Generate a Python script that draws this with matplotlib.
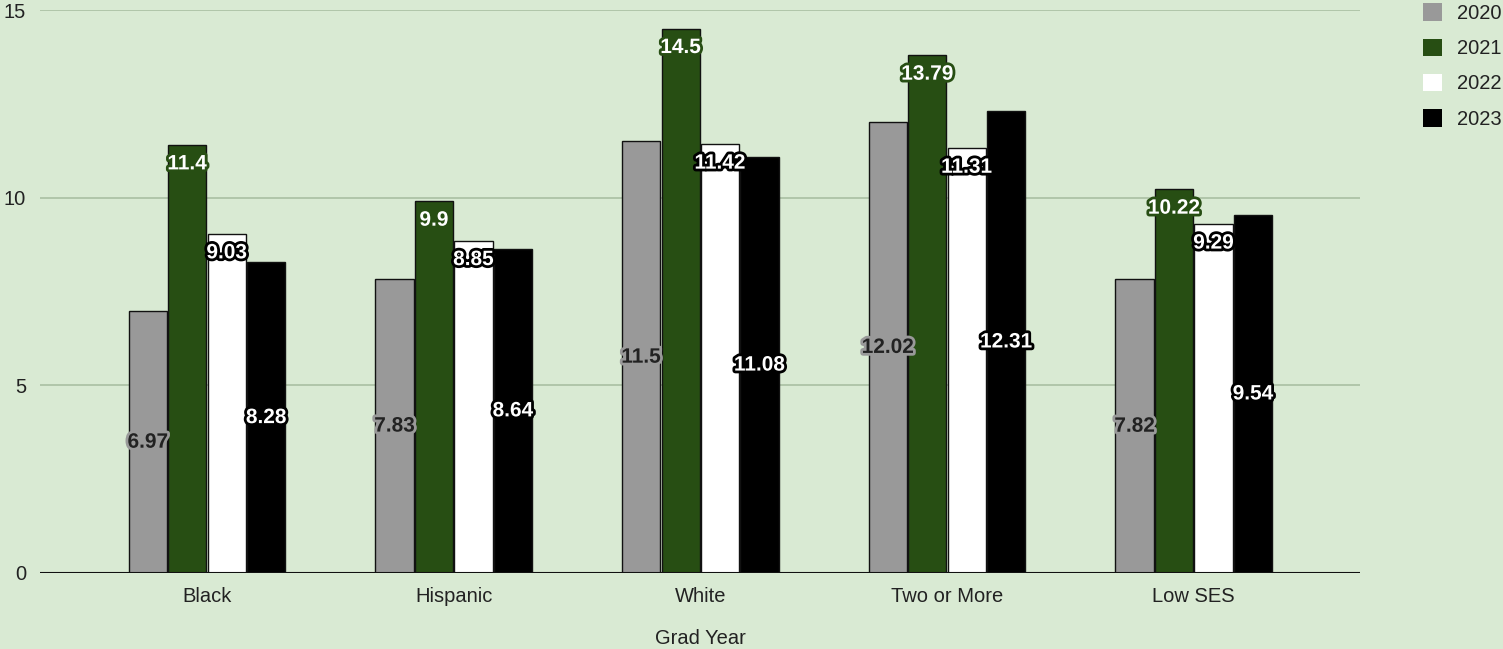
import numpy as np
import matplotlib.pyplot as plt
import matplotlib.patheffects as pe
from matplotlib.patches import Patch

plt.rcParams['font.family'] = ['Liberation Sans', 'DejaVu Sans']

# === Dados ===
groups = ["Black", "Hispanic", "White", "Two or More", "Low SES"]
years = ["2020", "2021", "2022", "2023"]
v2020 = [6.97, 7.83, 11.5, 12.02, 7.82]
v2021 = [11.4, 9.9, 14.5, 13.79, 10.22]
v2022 = [9.03, 8.85, 11.42, 11.31, 9.29]
v2023 = [8.28, 8.64, 11.08, 12.31, 9.54]
series = [v2020, v2021, v2022, v2023]

bg = '#d9ead3'
colors = ['#999999', '#274e13', '#ffffff', '#000000']
# cor do texto, cor do contorno, posicao ("mid" ou "top")
label_style = [('#222222', '#999999', 'mid'),
               ('#ffffff', '#274e13', 'top'),
               ('#ffffff', '#000000', 'top'),
               ('#ffffff', '#000000', 'mid')]

fig = plt.figure(figsize=(15.03, 6.49), dpi=100, facecolor=bg)
ax = fig.add_axes([40/1503, 1 - 573/649, 1320/1503, 563/649])
ax.set_facecolor(bg)

x = np.arange(len(groups))
w = 0.155
step = 0.16
for i, vals in enumerate(series):
    pos = x + (i - 1.5) * step
    bars = ax.bar(pos, vals, w, color=colors[i], edgecolor='#111111', lw=1.0, zorder=3)
    tc, sc, where = label_style[i]
    for b, v in zip(bars, vals):
        y = v / 2 if where == 'mid' else v - 0.5
        ax.text(b.get_x() + b.get_width() / 2, y, f"{v:g}", ha='center', va='center',
                fontsize=15, fontweight='bold', color=tc, zorder=5,
                path_effects=[pe.withStroke(linewidth=4, foreground=sc)])

ax.set_xlim((40 - 207) / 246.7, (1360 - 207) / 246.7)
ax.set_ylim(0, 15)
ax.set_yticks([0, 5, 10, 15])
ax.set_xticks(x)
ax.set_xticklabels(groups)
ax.grid(axis='y', color='#a9bfa2', lw=1.2, zorder=0)
ax.axhline(0, color='#111111', lw=1.5, zorder=4)
for s in ax.spines.values():
    s.set_visible(False)
ax.tick_params(axis='both', length=0, labelsize=14.5, colors='#222222')
ax.tick_params(axis='y', pad=10)
ax.tick_params(axis='x', pad=10)
ax.set_xlabel("Grad Year", fontsize=14.5, color='#222222', labelpad=17)

handles = [Patch(facecolor=c, edgecolor='none') for c in colors]
fig.legend(handles, years, loc='upper left', bbox_to_anchor=(1405/1503, 1.023),
           frameon=False, fontsize=14.5, handlelength=0.95, handleheight=0.95,
           labelspacing=0.78, handletextpad=0.75, labelcolor='#222222')

fig.savefig("out.png", dpi=100, facecolor=bg)
